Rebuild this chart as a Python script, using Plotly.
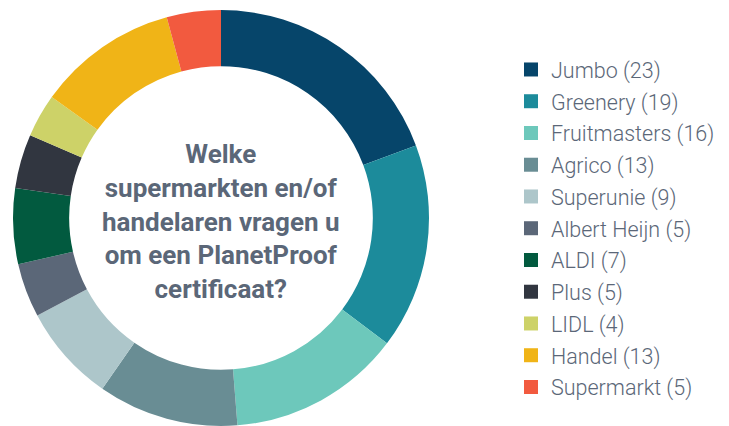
import plotly.graph_objects as go

labels = ["Jumbo", "Greenery", "Fruitmasters", "Agrico", "Superunie", "Albert Heijn",
          "ALDI", "Plus", "LIDL", "Handel", "Supermarkt"]
values = [23, 19, 16, 13, 9, 5, 7, 5, 4, 13, 5]
colors = ["#06456a", "#1c8b9b", "#6dc8bb", "#698d94", "#adc6ca", "#5b6778",
          "#025a3f", "#313640", "#cdd268", "#f0b417", "#f25a3f"]
center_title = "Welke<br>supermarkten en/of<br>handelaren vragen u<br>om een PlanetProof<br>certificaat?"

W, H = 729, 426
off = 8  # page body margin
cx, cy, R = 221 - off, 218 - off, 208

fig = go.Figure()
fig.add_trace(go.Pie(
    labels=labels, values=values, sort=False, direction="clockwise", rotation=0,
    hole=0.73, marker=dict(colors=colors, line=dict(width=0)),
    textinfo="none", hoverinfo="label+value", showlegend=False,
    domain=dict(x=[(cx - R) / W, (cx + R) / W], y=[1 - (cy + R) / H, 1 - (cy - R) / H]),
))
for i, (lab, val, col) in enumerate(zip(labels, values, colors)):
    fig.add_trace(go.Scatter(
        x=[None], y=[None], mode="markers", name=f"{lab} ({val})",
        marker=dict(symbol="square", size=14, color=col),
        legendgroup=f"g{i}", showlegend=True,
    ))

fig.add_annotation(
    x=cx / W, y=1 - (cy + 3) / H, xref="paper", yref="paper", showarrow=False,
    xanchor="center", yanchor="middle",
    text=f"<b>{center_title}</b>", align="center",
    font=dict(family="Roboto", size=26, color="#5b6778"),
)

fig.update_layout(
    width=W, height=H, margin=dict(l=0, r=0, t=0, b=0),
    paper_bgcolor="white", plot_bgcolor="white",
    xaxis=dict(visible=False), yaxis=dict(visible=False),
    legend=dict(x=503 / W, y=1 - 41 / H, xanchor="left", yanchor="top",
                font=dict(family="Roboto", size=21.5, weight=300, color="#5b6778"),
                tracegroupgap=0.8, bgcolor="rgba(0,0,0,0)"),
    font=dict(family="Roboto"),
)
fig.write_html("out.html")
